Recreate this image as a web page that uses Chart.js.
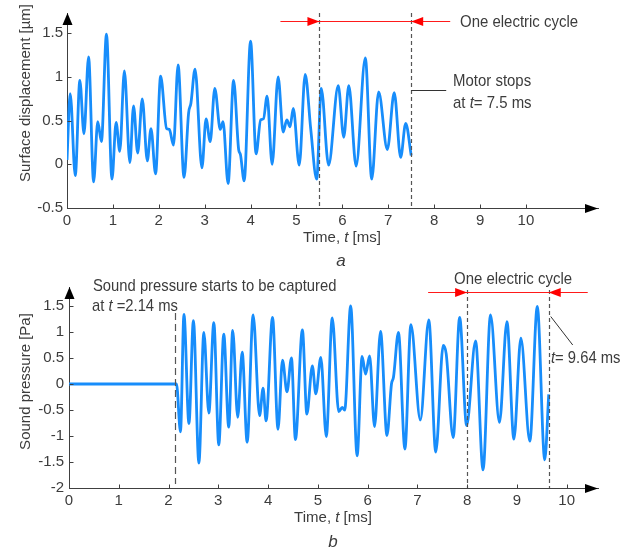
<!DOCTYPE html>
<html lang="en">
<head>
<meta charset="UTF-8">
<title>Surface displacement and sound pressure</title>
<script src="https://cdn.jsdelivr.net/npm/chart.js"></script>
<style>
  body { margin: 0; background: #fff; }
  #wrap { position: relative; width: 641px; height: 551px; }
  canvas { position: absolute; left: 0; }
  #topCanvas { top: 0; }
  #bottomCanvas { top: 268px; }
</style>
</head>
<body>
<div id="wrap">
  <canvas id="topCanvas" width="641" height="268"></canvas>
  <canvas id="bottomCanvas" width="641" height="283"></canvas>
</div>
<script>
// (a) surface displacement, turning points of the trace [ms, µm]
const dispTime = [0.00, 0.07, 0.18, 0.28, 0.37, 0.47, 0.58, 0.67, 0.75, 0.86, 0.98, 1.07, 1.15, 1.25, 1.37, 1.45, 1.54, 1.64, 1.75, 1.83,
  1.93, 2.04, 2.17, 2.23, 2.32, 2.42, 2.55, 2.65, 2.70, 2.79, 2.94, 3.03, 3.12, 3.22, 3.34, 3.40, 3.51, 3.63, 3.74, 3.78,
  3.86, 4.00, 4.12, 4.22, 4.28, 4.36, 4.47, 4.60, 4.71, 4.79, 4.86, 4.93, 5.06, 5.19, 5.31, 5.44, 5.54, 5.70, 5.91, 6.03,
  6.14, 6.30, 6.50, 6.64, 6.79, 6.98, 7.13, 7.27, 7.38, 7.50];
const dispValue = [0.05, 0.81, -0.13, 0.96, 0.35, 1.23, -0.20, 0.49, 0.26, 1.49, -0.17, 0.48, 0.15, 1.07, 0.02, 0.67, 0.13, 0.75, 0.04, 0.41,
  -0.11, 1.01, 0.41, 0.40, 0.22, 1.14, -0.15, 0.59, 0.70, 1.09, -0.04, 0.52, 0.26, 0.87, 0.40, 0.49, -0.22, 0.96, 0.17, 0.11,
  -0.19, 1.41, 0.12, 0.51, 0.52, 0.78, 0.00, 1.00, 0.37, 0.51, 0.43, 0.64, -0.01, 1.03, 0.41, -0.17, 0.87, -0.01, 0.90, 0.31,
  0.90, -0.02, 1.22, -0.17, 0.83, 0.17, 0.82, 0.08, 0.47, 0.10];

// (b) sound pressure, turning points of the trace [ms, Pa]
const presTime = [0.00, 2.16, 2.24, 2.31, 2.41, 2.50, 2.61, 2.71, 2.81, 2.91, 3.01, 3.11, 3.21, 3.29, 3.39, 3.48, 3.58, 3.70, 3.83, 3.90,
  3.96, 4.09, 4.20, 4.29, 4.38, 4.47, 4.55, 4.69, 4.78, 4.89, 4.96, 5.06, 5.17, 5.29, 5.42, 5.49, 5.54, 5.66, 5.79, 5.89,
  5.96, 6.04, 6.14, 6.26, 6.39, 6.48, 6.52, 6.62, 6.75, 6.87, 7.06, 7.23, 7.37, 7.52, 7.58, 7.72, 7.85, 7.99, 8.17, 8.32,
  8.47, 8.65, 8.80, 8.94, 9.08, 9.26, 9.41, 9.56, 9.64];
const presValue = [0.00, 0.00, -0.92, 1.34, -0.76, 1.22, -1.52, 0.99, -0.56, 1.18, -1.17, 0.96, -0.83, 1.03, -0.64, 0.61, -1.12, 1.33, -0.61, -0.08,
  -0.71, 1.28, -0.87, 0.46, -0.15, 0.50, -1.07, 1.04, -0.58, 0.35, -0.19, 0.51, -1.01, 1.27, -0.53, -0.45, -0.50, 1.50, -1.38, 0.53,
  0.19, 0.54, -0.82, 1.01, -0.99, 0.00, 0.13, 0.99, -1.25, 1.14, -0.69, 1.23, -1.31, 0.74, 0.58, -1.03, 1.28, -0.80, 0.83, -1.65,
  1.33, -0.74, 1.20, -1.06, 0.88, -1.10, 1.49, -1.46, -0.20];

const timeTicks = [0, 1, 2, 3, 4, 5, 6, 7, 8, 9, 10];
const dispTicks = [-0.5, 0, 0.5, 1, 1.5];
const presTicks = [-2, -1.5, -1, -0.5, 0, 0.5, 1, 1.5];

// marker times [ms]
const cycleA = [5.5, 7.5];
const motorStop = 7.5;
const captureStart = 2.14;
const cycleB = [8.0, 9.64];

const FAMILY = '"Liberation Sans", Arial, sans-serif';
const TEXT = '#3c3c3c';
const AXIS = '#404040';
const TRACE = '#178dfb';

// draws a run of text pieces, some of them italic, squeezed by sx
function drawText(ctx, parts, x, y, size, sx, align) {
  ctx.save();
  ctx.translate(x, y);
  ctx.scale(sx, 1);
  ctx.fillStyle = TEXT;
  ctx.textBaseline = 'alphabetic';
  ctx.textAlign = 'left';
  const fonts = parts.map(p => (p[1] ? 'italic ' : '') + size + 'px ' + FAMILY);
  let total = 0;
  const widths = parts.map((p, i) => {
    ctx.font = fonts[i];
    const w = ctx.measureText(p[0]).width;
    total += w;
    return w;
  });
  let cx = align === 'center' ? -total / 2 : 0;
  parts.forEach((p, i) => {
    ctx.font = fonts[i];
    ctx.fillText(p[0], cx, 0);
    cx += widths[i];
  });
  ctx.restore();
}

function line(ctx, x1, y1, x2, y2, color, width, dash) {
  ctx.save();
  ctx.strokeStyle = color;
  ctx.lineWidth = width;
  ctx.setLineDash(dash || []);
  ctx.beginPath();
  ctx.moveTo(x1, y1);
  ctx.lineTo(x2, y2);
  ctx.stroke();
  ctx.restore();
}

function tri(ctx, pts, color) {
  ctx.save();
  ctx.fillStyle = color;
  ctx.beginPath();
  ctx.moveTo(pts[0], pts[1]);
  ctx.lineTo(pts[2], pts[3]);
  ctx.lineTo(pts[4], pts[5]);
  ctx.closePath();
  ctx.fill();
  ctx.restore();
}

// axis arrows and inward tick marks
function drawFrame(chart) {
  const ctx = chart.ctx;
  const { left, right, top, bottom } = chart.chartArea;
  const ax = Math.round(left) + 0.5;
  const ay = Math.round(bottom) + 0.5;
  chart.scales.x.ticks.forEach(t => {
    const px = Math.round(chart.scales.x.getPixelForValue(t.value)) + 0.5;
    line(ctx, px, ay, px, ay - 4, AXIS, 1);
  });
  chart.scales.y.ticks.forEach(t => {
    const py = Math.round(chart.scales.y.getPixelForValue(t.value)) + 0.5;
    line(ctx, ax, py, ax + 4, py, AXIS, 1);
  });
  tri(ctx, [right, ay, right - 13, ay - 4.5, right - 13, ay + 4.5], '#000');
  tri(ctx, [ax, top, ax - 5, top + 12, ax + 5, top + 12], '#000');
}

// red double arrow marking one electric cycle between two times
function drawCycle(chart, times, y) {
  const ctx = chart.ctx;
  const x1 = chart.scales.x.getPixelForValue(times[0]);
  const x2 = chart.scales.x.getPixelForValue(times[1]);
  line(ctx, x1 - 39, y, x2 + 39, y, '#ff1a1a', 1.2);
  tri(ctx, [x1, y, x1 - 12, y - 4.5, x1 - 12, y + 4.5], '#ff0000');
  tri(ctx, [x2, y, x2 + 12, y - 4.5, x2 + 12, y + 4.5], '#ff0000');
}

const topDecor = {
  id: 'topDecor',
  afterDraw(chart) {
    const ctx = chart.ctx;
    const xs = chart.scales.x;
    const bottom = chart.chartArea.bottom;
    cycleA.forEach(t => {
      const px = Math.round(xs.getPixelForValue(t)) + 0.5;
      line(ctx, px, 13, px, bottom, '#555', 1.2, [4, 3]);
    });
    drawCycle(chart, cycleA, 21.5);
    const stopX = xs.getPixelForValue(motorStop);
    line(ctx, stopX, 90.5, stopX + 35, 90.5, '#333', 1);
    drawFrame(chart);

    drawText(ctx, [['One electric cycle']], 460, 27, 17, 0.88, 'left');
    drawText(ctx, [['Motor stops']], 453, 86, 17, 0.88, 'left');
    drawText(ctx, [['at '], ['t', true], ['= 7.5 ms']], 453, 108, 17, 0.88, 'left');
    drawText(ctx, [['Time, '], ['t', true], [' [ms]']], 342, 241.5, 15, 1, 'center');
    drawText(ctx, [['a', true]], 341, 266, 17, 1, 'center');
    ctx.save();
    ctx.translate(30, 93);
    ctx.rotate(-Math.PI / 2);
    drawText(ctx, [['Surface displacement [µm]']], 0, 0, 15, 1, 'center');
    ctx.restore();
  }
};

const bottomDecor = {
  id: 'bottomDecor',
  afterDraw(chart) {
    const ctx = chart.ctx;
    const xs = chart.scales.x;
    const bottom = chart.chartArea.bottom;
    const sx = Math.round(xs.getPixelForValue(captureStart)) + 0.5;
    line(ctx, sx, 45, sx, 216, '#555', 1.2, [7, 4]);
    cycleB.forEach(t => {
      const px = Math.round(xs.getPixelForValue(t)) + 0.5;
      line(ctx, px, 22, px, bottom, '#555', 1.2, [4, 3]);
    });
    drawCycle(chart, cycleB, 24.5);
    const endX = xs.getPixelForValue(cycleB[1]);
    line(ctx, endX + 2, 48.5, endX + 24, 77, '#333', 1);
    drawFrame(chart);

    drawText(ctx, [['Sound pressure starts to be captured']], 93, 22.7, 17, 0.87, 'left');
    drawText(ctx, [['at '], ['t', true], [' =2.14 ms']], 92, 42.7, 17, 0.87, 'left');
    drawText(ctx, [['One electric cycle']], 454, 16, 17, 0.88, 'left');
    drawText(ctx, [['t', true], ['= 9.64 ms']], 551, 94.7, 17, 0.87, 'left');
    drawText(ctx, [['Time, '], ['t', true], [' [ms]']], 333, 253.5, 15, 1, 'center');
    drawText(ctx, [['b', true]], 333, 278.5, 17, 1, 'center');
    ctx.save();
    ctx.translate(30, 113.5);
    ctx.rotate(-Math.PI / 2);
    drawText(ctx, [['Sound pressure [Pa]']], 0, 0, 15, 1, 'center');
    ctx.restore();
  }
};

const tickFont = { family: FAMILY, size: 15 };

function makeChart(canvasId, times, values, xMax, yMin, yMax, yTicks, yWidth, yPad, padding, decor) {
  return new Chart(document.getElementById(canvasId), {
    type: 'line',
    data: {
      datasets: [{
        data: times.map((t, i) => ({ x: t, y: values[i] })),
        borderColor: TRACE,
        borderWidth: 2.8,
        pointRadius: 0,
        cubicInterpolationMode: 'monotone',
        fill: false
      }]
    },
    options: {
      responsive: false,
      animation: false,
      layout: { padding: padding },
      plugins: { legend: { display: false }, tooltip: { enabled: false } },
      scales: {
        x: {
          type: 'linear',
          min: 0,
          max: xMax,
          afterBuildTicks: s => { s.ticks = timeTicks.map(v => ({ value: v })); },
          afterFit: s => { s.height = 40; },
          grid: { display: false, drawTicks: false },
          border: { display: true, color: AXIS, width: 1 },
          ticks: { padding: 4, autoSkip: false, maxRotation: 0, font: tickFont, color: TEXT, callback: v => String(v) }
        },
        y: {
          min: yMin,
          max: yMax,
          afterBuildTicks: s => { s.ticks = yTicks.map(v => ({ value: v })); },
          afterFit: s => { s.width = yWidth; },
          grid: { display: false, drawTicks: false },
          border: { display: true, color: AXIS, width: 1 },
          ticks: { padding: yPad, font: tickFont, color: TEXT, callback: v => String(v) }
        }
      }
    },
    plugins: [decor]
  });
}

makeChart('topCanvas', dispTime, dispValue, 11.57, -0.5, 1.733, dispTicks, 67, 4,
  { left: 0, right: 43, top: 7, bottom: 20 }, topDecor);
makeChart('bottomCanvas', presTime, presValue, 10.63, -2, 1.865, presTicks, 69, 5,
  { left: 0, right: 43, top: 19, bottom: 23 }, bottomDecor);
</script>
</body>
</html>
